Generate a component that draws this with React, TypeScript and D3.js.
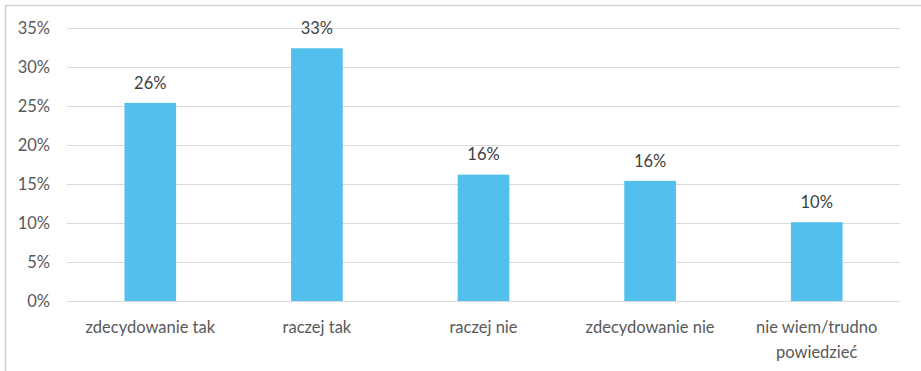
import React, { useEffect, useRef } from "react";
import * as d3 from "d3";

const categories = ["zdecydowanie tak", "raczej tak", "raczej nie", "zdecydowanie nie", "nie wiem/trudno powiedzieć"];
const values = [25.4, 32.4, 16.2, 15.4, 10.1];
const valueLabels = ["26%", "33%", "16%", "16%", "10%"];
const yTicks = [0, 5, 10, 15, 20, 25, 30, 35];

const W = 921, H = 371;
const M = { left: 67, right: 21, top: 28, bottom: 70 };

export default function App() {
  const ref = useRef<SVGSVGElement>(null);
  useEffect(() => {
    const svg = d3.select(ref.current);
    svg.selectAll("*").remove();
    const font = "Lato, 'Open Sans', sans-serif";
    const fs = 16.5;
    const x = d3.scaleBand().domain(categories).range([M.left, W - M.right]).paddingInner(0.69).paddingOuter(0.345);
    const y = d3.scaleLinear().domain([0, 35]).range([H - M.bottom, M.top]);

    svg.append("rect").attr("x", 0).attr("y", 0).attr("width", W).attr("height", H).attr("fill", "white");
    svg.append("path").attr("d", `M5.5,${H} V5.5 H${W}`).attr("fill", "none")
      .attr("stroke", "#d0d0d0").attr("stroke-width", 1.5);

    svg.append("g").selectAll("line").data(yTicks).join("line")
      .attr("x1", M.left).attr("x2", W - M.right)
      .attr("y1", d => Math.round(y(d)) + 0.5).attr("y2", d => Math.round(y(d)) + 0.5)
      .attr("stroke", "#d9d9d9").attr("stroke-width", 1);

    svg.append("g").selectAll("text").data(yTicks).join("text")
      .attr("x", 50).attr("y", d => y(d)).attr("dy", "0.35em")
      .attr("text-anchor", "end").attr("font-family", font).attr("font-size", fs)
      .attr("fill", "#595959").text(d => d + "%");

    svg.append("g").selectAll("rect").data(values).join("rect")
      .attr("x", (d, i) => x(categories[i])!).attr("width", x.bandwidth())
      .attr("y", d => y(d)).attr("height", d => y(0) - y(d)).attr("fill", "#53bfed");

    svg.append("g").selectAll("text").data(values).join("text")
      .attr("x", (d, i) => x(categories[i])! + x.bandwidth() / 2)
      .attr("y", d => y(d) - 20).attr("dy", "0.35em")
      .attr("text-anchor", "middle").attr("font-family", font).attr("font-size", fs)
      .attr("fill", "#404040").text((d, i) => valueLabels[i]);

    const cat = svg.append("g").selectAll("text").data(categories).join("text")
      .attr("text-anchor", "middle").attr("font-family", font).attr("font-size", fs)
      .attr("fill", "#595959");
    cat.each(function (d) {
      const cx = x(d)! + x.bandwidth() / 2;
      const lines = d === "nie wiem/trudno powiedzieć" ? ["nie wiem/trudno", "powiedzieć"] : [d];
      d3.select(this).selectAll("tspan").data(lines).join("tspan")
        .attr("x", cx).attr("y", (l, j) => 327 + j * 25).attr("dy", "0.35em").text(l => l);
    });
  }, []);
  return (
    <svg ref={ref} width={W} height={H}
      style={{ display: "block", position: "absolute", left: 0, top: 0 }} />
  );
}
